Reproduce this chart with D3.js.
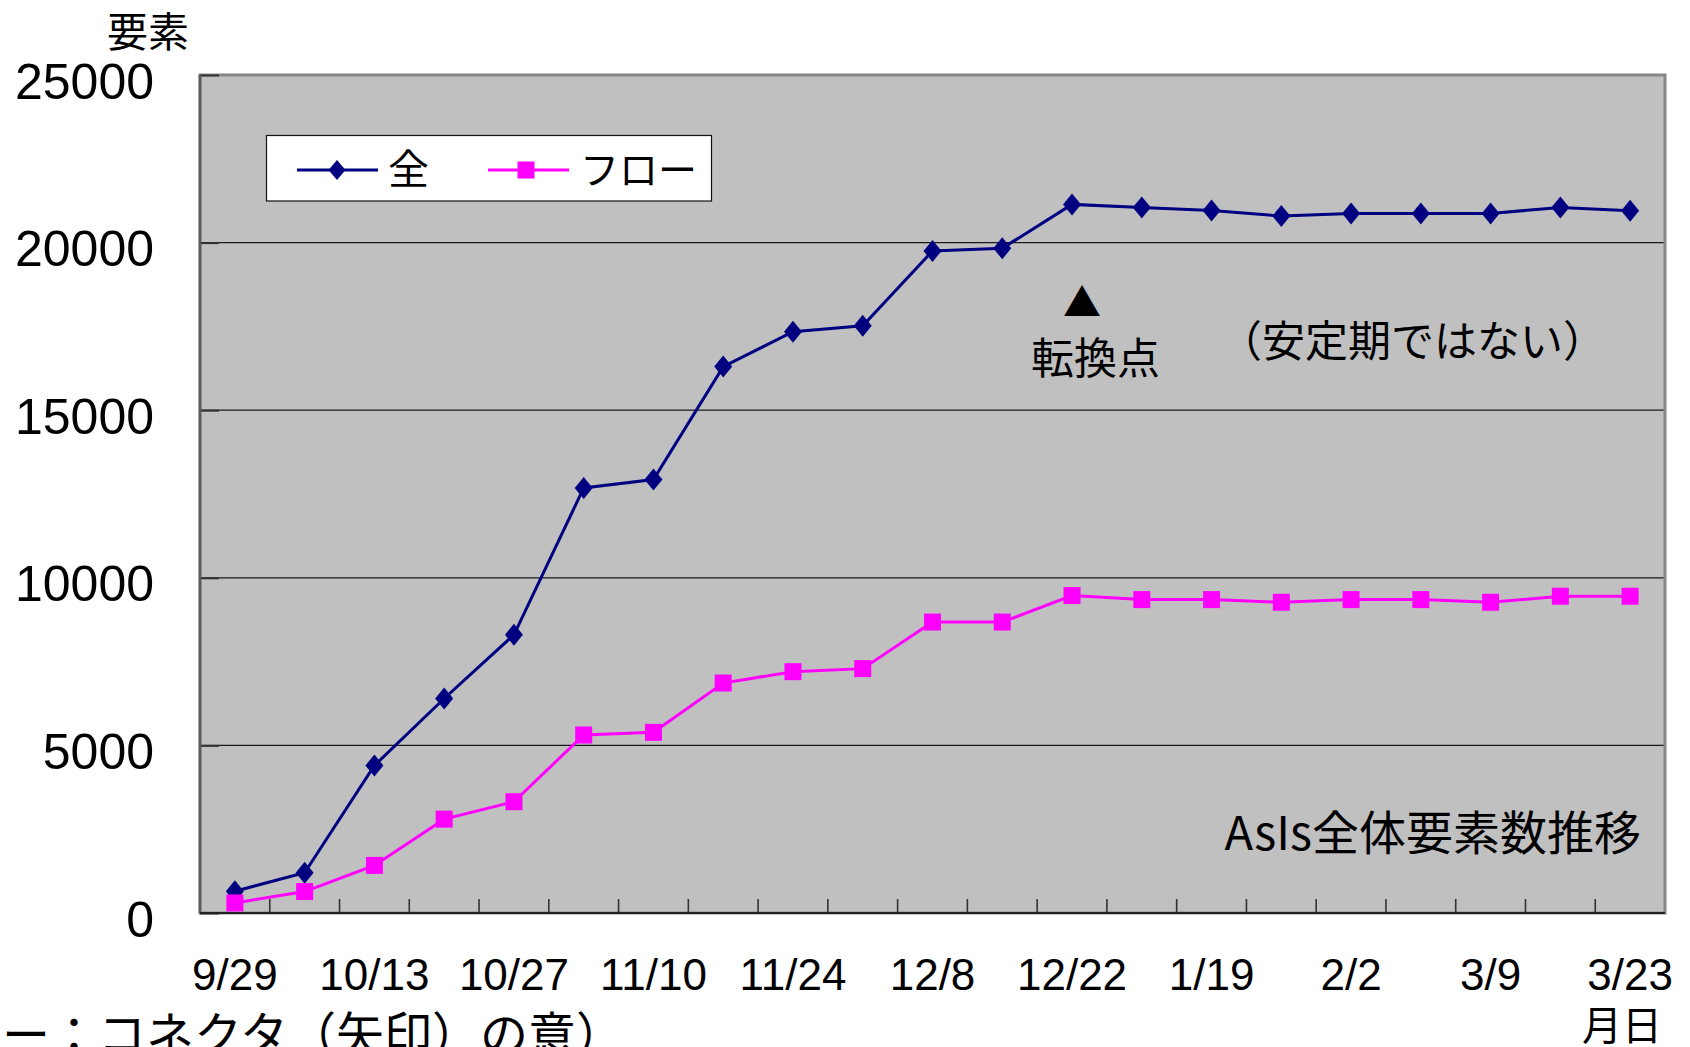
<!DOCTYPE html>
<html lang="ja">
<head>
<meta charset="utf-8">
<script src="https://cdn.jsdelivr.net/npm/d3@7"></script>
<style>
  html, body { margin: 0; padding: 0; background: #fff; }
  svg { display: block; }
  .num { font-family: "Liberation Sans", Arial, sans-serif; fill: #000; }
  .jp { font-family: "Noto Sans CJK JP", "Noto Sans CJK SC", sans-serif; fill: #000; }
</style>
</head>
<body>
<svg id="chart" width="1690" height="1047"></svg>
<script>
// Weekly snapshots of the AsIs model
const categories = ["9/29","10/6","10/13","10/20","10/27","11/3","11/10","11/17","11/24","12/1",
                    "12/8","12/15","12/22","1/5","1/19","1/26","2/2","2/16","3/9","3/16","3/23"];
const labelledDates = ["9/29","10/13","10/27","11/10","11/24","12/8","12/22","1/19","2/2","3/9","3/23"];
// Element counts: all elements and flow elements
const allValues  = [650, 1200, 4400, 6400, 8300, 12680, 12930, 16300, 17340, 17520, 19750,
                    19830, 21140, 21050, 20960, 20790, 20870, 20870, 20870, 21050, 20950];
const flowValues = [300, 640, 1420, 2800, 3320, 5310, 5390, 6860, 7200, 7290, 8680,
                    8680, 9470, 9350, 9350, 9270, 9350, 9350, 9270, 9450, 9450];
const yTicks = [0, 5000, 10000, 15000, 20000, 25000];
const seriesNames = ["全", "フロー"];

const svg = d3.select("#chart");
const plotL = 200, plotR = 1665, plotT = 75, plotB = 913;

const x = d3.scaleBand().domain(categories).range([plotL, plotR]).padding(0);
const y = d3.scaleLinear().domain([0, 25000]).range([plotB, plotT]);
const cx = d => x(d) + x.bandwidth() / 2;

// plot background
svg.append("rect")
  .attr("x", plotL).attr("y", plotT)
  .attr("width", plotR - plotL).attr("height", plotB - plotT)
  .attr("fill", "#c0c0c0");

// horizontal gridlines
svg.append("g").selectAll("line")
  .data(yTicks.filter(v => v > 0 && v < 25000))
  .join("line")
  .attr("x1", plotL).attr("x2", plotR)
  .attr("y1", d => y(d)).attr("y2", d => y(d))
  .attr("stroke", "#1a1a1a").attr("stroke-width", 1.3);

// frame
svg.append("rect")
  .attr("x", plotL).attr("y", plotT)
  .attr("width", plotR - plotL).attr("height", plotB - plotT)
  .attr("fill", "none").attr("stroke", "#868686").attr("stroke-width", 3);

// value axis: inside ticks, labels on the left
const yAxis = svg.append("g")
  .attr("transform", `translate(${plotL},0)`)
  .call(d3.axisLeft(y).tickValues(yTicks).tickSize(-19).tickPadding(46).tickFormat(d3.format("d")));
yAxis.select(".domain").remove();
yAxis.selectAll(".tick line").attr("stroke", "#333").attr("stroke-width", 2);
yAxis.selectAll(".tick text")
  .attr("class", "num").attr("font-size", 50).attr("dy", "0.46em");

// category axis: tick marks on band boundaries
svg.append("g").selectAll("line")
  .data(categories.slice(1))
  .join("line")
  .attr("x1", d => x(d)).attr("x2", d => x(d))
  .attr("y1", plotB).attr("y2", plotB - 14)
  .attr("stroke", "#333").attr("stroke-width", 1.6);

const xAxis = svg.append("g")
  .attr("transform", `translate(0,${plotB})`)
  .call(d3.axisBottom(x).tickValues(labelledDates).tickSize(0).tickPadding(46));
xAxis.select(".domain").remove();
xAxis.selectAll(".tick text").attr("class", "num").attr("font-size", 44);

// axis lines
svg.append("line").attr("x1", plotL).attr("x2", plotL).attr("y1", plotT).attr("y2", plotB)
  .attr("stroke", "#5a5a5a").attr("stroke-width", 2.5);
svg.append("line").attr("x1", plotL).attr("x2", plotR).attr("y1", plotB).attr("y2", plotB)
  .attr("stroke", "#222").attr("stroke-width", 2);

// series
const line = d3.line().x((d, i) => cx(categories[i])).y(d => y(d));
const diamond = "M0,-11L9,0L0,11L-9,0Z";

svg.append("path").datum(allValues)
  .attr("d", line).attr("fill", "none").attr("stroke", "#000080").attr("stroke-width", 3);
svg.append("g").selectAll("path")
  .data(allValues).join("path")
  .attr("d", diamond)
  .attr("transform", (d, i) => `translate(${cx(categories[i])},${y(d)})`)
  .attr("fill", "#000080");

svg.append("path").datum(flowValues)
  .attr("d", line).attr("fill", "none").attr("stroke", "#ff00ff").attr("stroke-width", 3);
svg.append("g").selectAll("rect")
  .data(flowValues).join("rect")
  .attr("x", (d, i) => cx(categories[i]) - 8.5).attr("y", d => y(d) - 8.5)
  .attr("width", 17).attr("height", 17)
  .attr("fill", "#ff00ff");

// legend
const lg = svg.append("g");
lg.append("rect").attr("x", 266.5).attr("y", 135.5).attr("width", 445).attr("height", 65.5)
  .attr("fill", "#fff").attr("stroke", "#111").attr("stroke-width", 1.2);
lg.append("line").attr("x1", 297).attr("x2", 378).attr("y1", 170).attr("y2", 170)
  .attr("stroke", "#000080").attr("stroke-width", 3);
lg.append("path").attr("d", "M0,-10L8.5,0L0,10L-8.5,0Z")
  .attr("transform", "translate(337,170)").attr("fill", "#000080");
lg.append("text").attr("class", "jp").attr("x", 388).attr("y", 184)
  .attr("font-size", 41).text(seriesNames[0]);
lg.append("line").attr("x1", 488).attr("x2", 569).attr("y1", 170).attr("y2", 170)
  .attr("stroke", "#ff00ff").attr("stroke-width", 3);
lg.append("rect").attr("x", 517.5).attr("y", 161.5).attr("width", 17).attr("height", 17)
  .attr("fill", "#ff00ff");
lg.append("text").attr("class", "jp").attr("x", 580).attr("y", 184)
  .attr("font-size", 39).text(seriesNames[1]);

// titles and notes
svg.append("text").attr("class", "jp").attr("x", 107).attr("y", 47)
  .attr("font-size", 41).text("要素");
svg.append("text").attr("class", "jp").attr("x", 1662).attr("y", 1040)
  .attr("text-anchor", "end").attr("font-size", 40).text("月日");
svg.append("text").attr("class", "jp").attr("x", 1082).attr("y", 316)
  .attr("text-anchor", "middle").attr("font-size", 38).text("▲");
svg.append("text").attr("class", "jp").attr("x", 1031).attr("y", 374)
  .attr("font-size", 43).text("転換点");
svg.append("text").attr("class", "jp").attr("x", 1219).attr("y", 357)
  .attr("font-size", 43).text("（安定期ではない）");
svg.append("text").attr("class", "jp").attr("x", 1641).attr("y", 850)
  .attr("text-anchor", "end").attr("font-size", 47).text("AsIs全体要素数推移");
svg.append("text").attr("class", "jp").attr("x", 2).attr("y", 1052)
  .attr("font-size", 48).text("ー：コネクタ（矢印）の意）");
</script>
</body>
</html>
